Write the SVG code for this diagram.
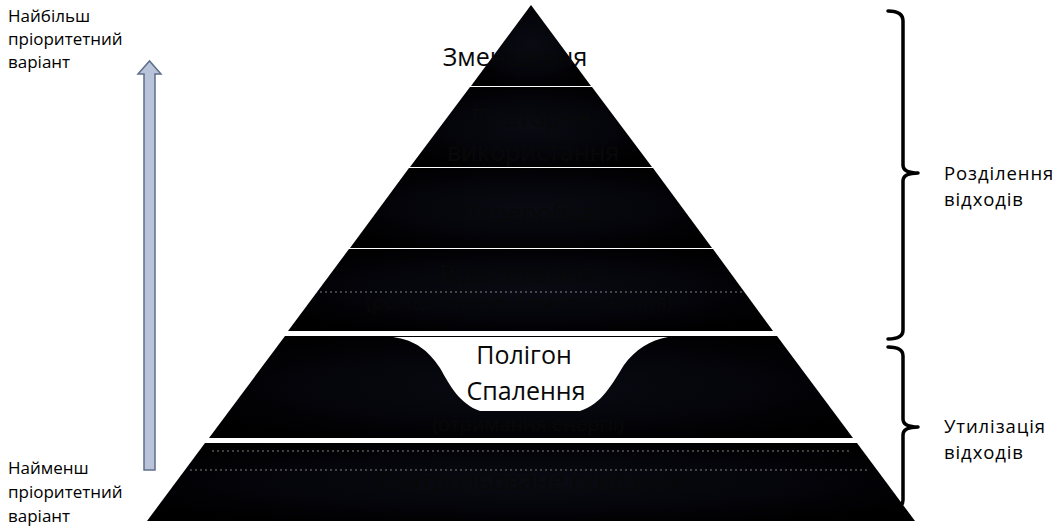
<svg xmlns="http://www.w3.org/2000/svg" width="1062" height="529" viewBox="0 0 1062 529">
<style>
.lbl{font-family:"Open Sans","Liberation Sans",sans-serif;font-size:17px;fill:#000}
.lblr{font-family:"Open Sans","Liberation Sans",sans-serif;font-size:18.5px;letter-spacing:0.9px;fill:#000}
.lay{fill:url(#dark)}
.t{font-family:"Open Sans","Liberation Sans",sans-serif;font-size:25px;fill:#080808;text-anchor:middle}
.ts{font-family:"Open Sans","Liberation Sans",sans-serif;font-size:20px;fill:#080808;text-anchor:middle}
.brace{fill:none;stroke:#000;stroke-width:3.5;stroke-linejoin:round;stroke-linecap:round}
.dots{stroke:#fff;stroke-width:1;stroke-dasharray:2 3;opacity:.5}
</style>
<defs>
<radialGradient id="dark" cx="0.5" cy="0.5" r="0.6">
<stop offset="0" stop-color="#0a0a12"/>
<stop offset="0.5" stop-color="#05050c"/>
<stop offset="1" stop-color="#000"/>
</radialGradient>
</defs>
<rect width="1062" height="529" fill="#fff"/>

<g id="layer-reduce">
<polygon class="lay" points="531,5 591,86 471,86"/>
<text class="t" x="515" y="66">Зменшення</text>
</g>
<g id="layer-reuse">
<polygon class="lay" points="470,87 592,87 652,167 410,167"/>
<text class="t" x="531" y="127">Повторне</text>
<text class="t" x="533" y="161">використання</text>
</g>
<g id="layer-recycle">
<polygon class="lay" points="409,168 653,168 712,248 350,248"/>
<text class="t" x="527" y="222">Переробка</text>
</g>
<g id="layer-recovery">
<polygon class="lay" points="349,249 713,249 773,331 288,331"/>
<text class="t" x="517" y="283">Відновлення</text>
<text class="ts" x="519" y="309">(розщеплення, компостування)</text>
<line class="dots" x1="300" y1="292" x2="760" y2="292"/>
</g>
<g id="layer-incineration">
<polygon class="lay" points="285,336 777,336 853,438 209,438"/>
<path fill="#fff" d="M393 337 L668 337 C650 340 635 350 624 365 C612 384 602 404 580 411 L480 411 C460 404 450 386 440 368 C428 350 415 340 393 337 Z"/>
<text class="t" x="524" y="364">Полігон</text>
<text class="t" x="526" y="400">Спалення</text>
<text class="ts" x="528" y="431">(отримання енергії)</text>
</g>
<g id="layer-landfill">
<polygon class="lay" points="205,443 857,443 915,521 147,521"/>
<line class="dots" x1="212" y1="451" x2="850" y2="451"/>
<line class="dots" x1="190" y1="470" x2="870" y2="470"/>
<text class="t" x="530" y="490">Контрольоване скидання</text>
<line class="dots" x1="150" y1="524" x2="912" y2="524"/>
</g>

<g id="label-most">
<text class="lbl" x="8" y="22">Найбільш</text>
<text class="lbl" x="8" y="45">пріоритетний</text>
<text class="lbl" x="8" y="68">варіант</text>
</g>
<g id="label-least">
<text class="lbl" x="8" y="474">Найменш</text>
<text class="lbl" x="8" y="498">пріоритетний</text>
<text class="lbl" x="8" y="522">варіант</text>
</g>
<g id="label-separation">
<text class="lblr" x="944" y="180">Розділення</text>
<text class="lblr" x="944" y="206">відходів</text>
</g>
<g id="label-disposal">
<text class="lblr" x="944" y="433">Утилізація</text>
<text class="lblr" x="944" y="459">відходів</text>
</g>

<g id="connectors">
<path d="M144 470 L144 74 L138 74 L149.5 61 L161 74 L155 74 L155 470 Z" fill="#b9c3d9" stroke="#5f6f8c" stroke-width="1.5" stroke-linejoin="miter"/>
<path class="brace" d="M888 11 Q903 11 903 21 L903 165 Q903 173 918 173 Q903 173 903 181 L903 330 Q903 339 888 339"/>
<path class="brace" d="M888 347 Q903 347 903 356 L903 419 Q903 427 918 427 Q903 427 903 435 L903 500 Q903 509 888 509"/>
</g>
</svg>
